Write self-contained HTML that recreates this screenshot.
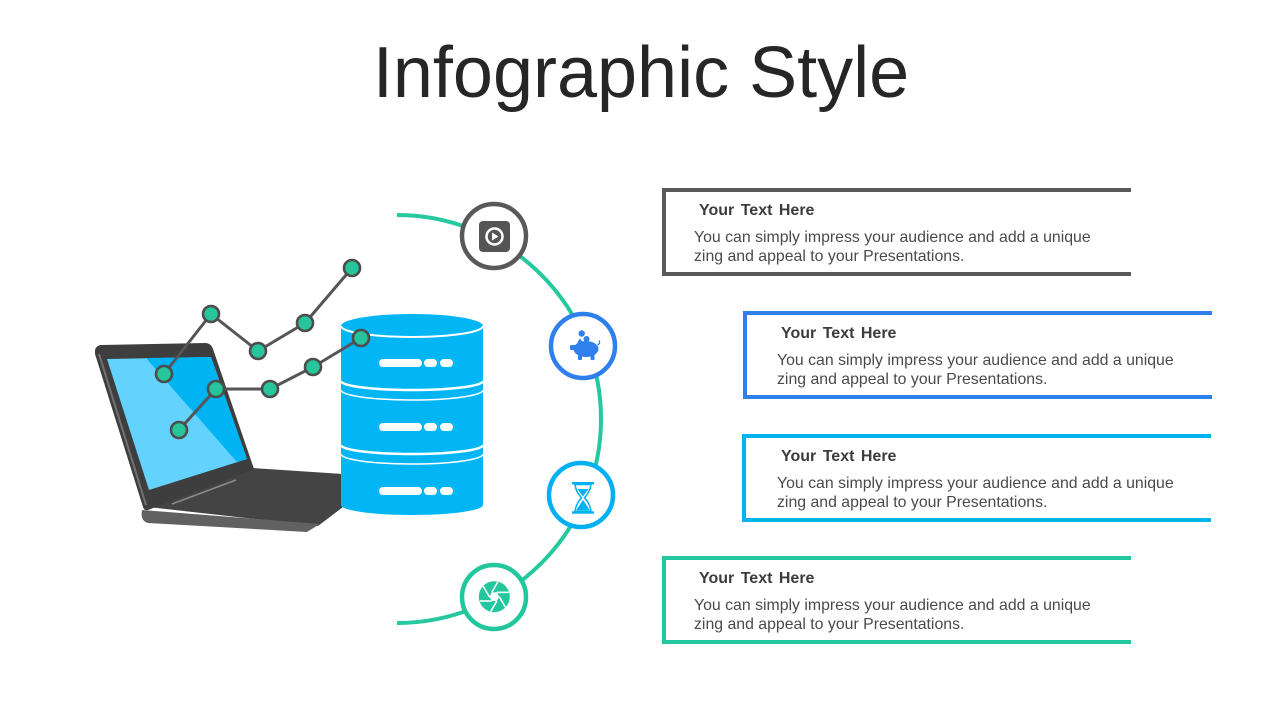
<!DOCTYPE html>
<html>
<head>
<meta charset="utf-8">
<style>
  html,body{margin:0;padding:0;background:#fff;}
  body{width:1280px;height:720px;overflow:hidden;}
  svg{display:block;}
  text{font-family:"Liberation Sans",Arial,sans-serif;}
  .h{font-size:16px;font-weight:bold;fill:#3c3c3c;word-spacing:2px;}
  .b{font-size:15.85px;fill:#4a4a4a;}
</style>
</head>
<body>
<svg width="1280" height="720" viewBox="0 0 1280 720" xmlns="http://www.w3.org/2000/svg">
  <!-- Title -->
  <text x="641" y="97" text-anchor="middle" font-size="72" fill="#262626">Infographic Style</text>

  <!-- Arc -->
  <path d="M397,215 A204,204 0 0 1 397,623" fill="none" stroke="#26c89f" stroke-width="4"/>

  <!-- Laptop deck -->
  <path d="M148,507 L253,468 L343,474 L343,507 L318,526 Z" fill="#444444"/>
  <path d="M142,510 L320,524 L307,532 L148,523 Q140,521 142,510 Z" fill="#616161"/>
  <path d="M172,504 L236,480" stroke="#8a8a8a" stroke-width="1.6" fill="none"/>
  <path d="M161,502 L169,500" stroke="#8a8a8a" stroke-width="1.3" fill="none"/>
  <!-- Laptop lid -->
  <path d="M101,345 L205,343 Q211,343 213,349 L254,469 L148,510 Q144,511 143,507 L95,354 Q94,346 101,345 Z" fill="#3e3e3e"/>
  <path d="M99,354 L146,505" stroke="#727272" stroke-width="2" fill="none"/>
  <!-- Screen -->
  <path d="M107,359 L211,357 L247,459 L149,490 Z" fill="#63d3fd"/>
  <path d="M146,358 L211,357 L247,459 L237,462 Z" fill="#00b3f3"/>

  <!-- Database -->
  <path d="M341,326 A71,12 0 0 1 483,326 L483,505 A71,10 0 0 1 341,505 Z" fill="#02b5f4"/>
  <path d="M341,326 A71,11 0 0 0 483,326" fill="none" stroke="#fff" stroke-width="2"/>
  <path d="M341,381 A71,9 0 0 0 483,381" fill="none" stroke="#fff" stroke-width="2.5"/>
  <path d="M341,390 A71,10 0 0 0 483,390" fill="none" stroke="#fff" stroke-width="1.5"/>
  <path d="M341,445 A71,9 0 0 0 483,445" fill="none" stroke="#fff" stroke-width="2.5"/>
  <path d="M341,454 A71,10 0 0 0 483,454" fill="none" stroke="#fff" stroke-width="1.5"/>
  <g fill="#fff">
    <rect x="379" y="359" width="43" height="8" rx="4"/>
    <rect x="424" y="359" width="13" height="8" rx="4"/>
    <rect x="440" y="359" width="13" height="8" rx="4"/>
    <rect x="379" y="423" width="43" height="8" rx="4"/>
    <rect x="424" y="423" width="13" height="8" rx="4"/>
    <rect x="440" y="423" width="13" height="8" rx="4"/>
    <rect x="379" y="487" width="43" height="8" rx="4"/>
    <rect x="424" y="487" width="13" height="8" rx="4"/>
    <rect x="440" y="487" width="13" height="8" rx="4"/>
  </g>

  <!-- Chart lines -->
  <polyline points="164,374 211,314 258,351 305,323 352,268" fill="none" stroke="#555" stroke-width="3" stroke-linejoin="round"/>
  <polyline points="179,430 216,389 270,389 313,367 361,338" fill="none" stroke="#555" stroke-width="3" stroke-linejoin="round"/>
  <g fill="#27c59b" stroke="#4d4d4d" stroke-width="2.6">
    <circle cx="164" cy="374" r="8"/>
    <circle cx="211" cy="314" r="8"/>
    <circle cx="258" cy="351" r="8"/>
    <circle cx="305" cy="323" r="8"/>
    <circle cx="352" cy="268" r="8"/>
    <circle cx="179" cy="430" r="8"/>
    <circle cx="216" cy="389" r="8"/>
    <circle cx="270" cy="389" r="8"/>
    <circle cx="313" cy="367" r="8"/>
    <circle cx="361" cy="338" r="8"/>
  </g>

  <!-- Circle nodes -->
  <circle cx="494" cy="236" r="32" fill="#fff" stroke="#595959" stroke-width="4.5"/>
  <circle cx="583" cy="346" r="32" fill="#fff" stroke="#2f80ed" stroke-width="4.5"/>
  <circle cx="581" cy="495" r="32" fill="#fff" stroke="#00b0f0" stroke-width="4.5"/>
  <circle cx="494" cy="597" r="32" fill="#fff" stroke="#22c79d" stroke-width="4.5"/>

  <!-- Icon 1: play -->
  <rect x="479" y="221" width="31" height="31" rx="4" fill="#555"/>
  <circle cx="494.5" cy="236.5" r="8" fill="none" stroke="#fff" stroke-width="2.5"/>
  <path d="M492,232.5 L492,240.5 L498.5,236.5 Z" fill="#fff"/>

  <!-- Icon 2: piggy bank -->
  <g fill="#2f80ed">
    <circle cx="581.7" cy="333.5" r="3.2"/>
    <circle cx="586.5" cy="339" r="3"/>
    <ellipse cx="586" cy="349" rx="12.5" ry="8"/>
    <rect x="570" y="345" width="6" height="5" rx="1.2"/>
    <path d="M577,343 L580,338.5 L583,342.5 Z"/>
    <rect x="578" y="353" width="4" height="7" rx="1"/>
    <rect x="590.5" y="353" width="4" height="7" rx="1"/>
  </g>
  <path d="M597.5,345 Q601,343 599,340.5" fill="none" stroke="#2f80ed" stroke-width="1.3"/>

  <!-- Icon 3: hourglass -->
  <g fill="#00b0f0">
    <rect x="572" y="482" width="22" height="2.4"/>
    <rect x="572" y="511.3" width="22" height="2.4"/>
    <path d="M577.5,489 L588.5,489 L583,496.5 Z"/>
    <path d="M583,500 L590,510.5 L576,510.5 Z"/>
  </g>
  <path d="M575,484.5 L591,484.5 Q590,492 584.5,497.8 Q590,503.5 591,511.5 L575,511.5 Q576,503.5 581.5,497.8 Q576,492 575,484.5 Z" fill="none" stroke="#00b0f0" stroke-width="1.5"/>

  <!-- Icon 4: aperture -->
  <g transform="translate(494.3,596.7)">
    <circle r="15.5" fill="#22c79d"/>
    <polygon points="5,0 2.5,4.33 -2.5,4.33 -5,0 -2.5,-4.33 2.5,-4.33" fill="#fff"/>
    <g stroke="#fff" stroke-width="1.6" fill="none">
      <line x1="5" y1="0" x2="11" y2="10.39"/>
      <line x1="2.5" y1="4.33" x2="-3.5" y2="14.72"/>
      <line x1="-2.5" y1="4.33" x2="-14.5" y2="4.33"/>
      <line x1="-5" y1="0" x2="-11" y2="-10.39"/>
      <line x1="-2.5" y1="-4.33" x2="3.5" y2="-14.72"/>
      <line x1="2.5" y1="-4.33" x2="14.5" y2="-4.33"/>
    </g>
  </g>

  <!-- Box 1 -->
  <path d="M1131,190 L664,190 L664,274 L1131,274" fill="none" stroke="#595959" stroke-width="4"/>
  <text class="h" x="699" y="215">Your Text Here</text>
  <text class="b" x="694" y="242">You can simply impress your audience and add a unique</text>
  <text class="b" x="694" y="261">zing and appeal to your Presentations.</text>

  <!-- Box 2 -->
  <path d="M1212,313 L745,313 L745,397 L1212,397" fill="none" stroke="#2f80ed" stroke-width="4"/>
  <text class="h" x="781" y="338">Your Text Here</text>
  <text class="b" x="777" y="365">You can simply impress your audience and add a unique</text>
  <text class="b" x="777" y="384">zing and appeal to your Presentations.</text>

  <!-- Box 3 -->
  <path d="M1211,436 L744,436 L744,520 L1211,520" fill="none" stroke="#00b4f0" stroke-width="4"/>
  <text class="h" x="781" y="461">Your Text Here</text>
  <text class="b" x="777" y="488">You can simply impress your audience and add a unique</text>
  <text class="b" x="777" y="507">zing and appeal to your Presentations.</text>

  <!-- Box 4 -->
  <path d="M1131,558 L664,558 L664,642 L1131,642" fill="none" stroke="#22c79d" stroke-width="4"/>
  <text class="h" x="699" y="583">Your Text Here</text>
  <text class="b" x="694" y="610">You can simply impress your audience and add a unique</text>
  <text class="b" x="694" y="629">zing and appeal to your Presentations.</text>
</svg>
</body>
</html>
